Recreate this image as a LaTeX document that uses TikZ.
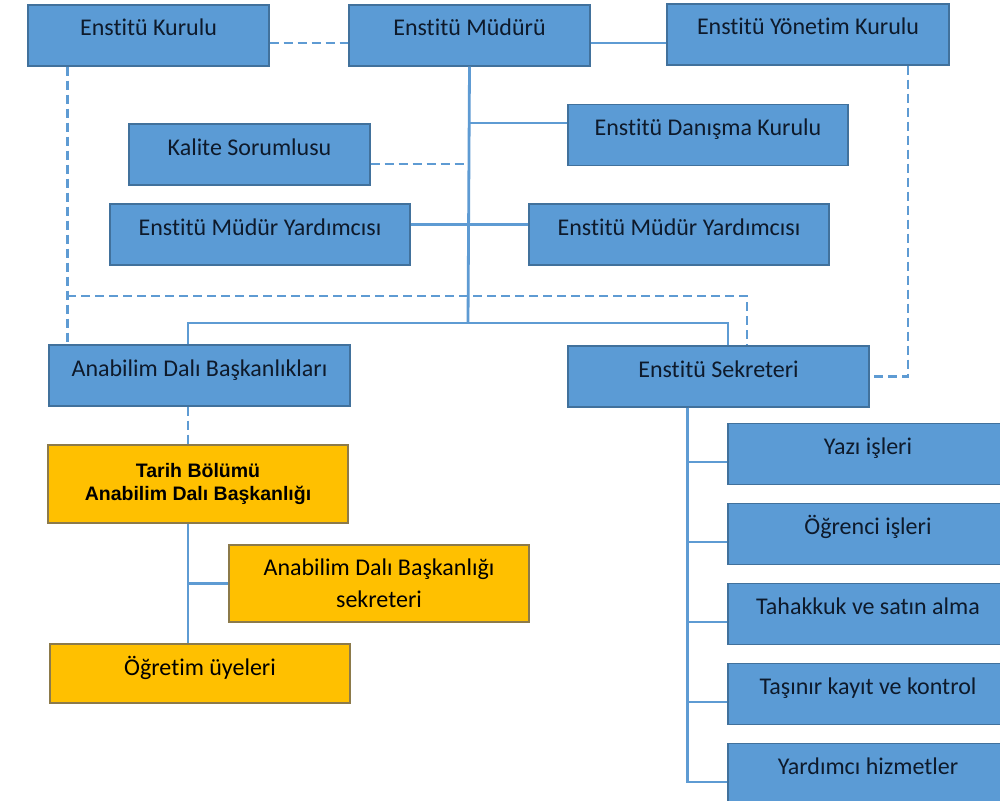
\documentclass[tikz,border=0pt]{standalone}
\usepackage{fontspec}
\setmainfont{Carlito}[Ligatures=NoCommon]
\newfontfamily\headfont{Liberation Sans}
\usepackage{xcolor}
\usepackage{tikz}
\usetikzlibrary{positioning,calc}

\definecolor{boxblue}{HTML}{5B9BD5}
\definecolor{boxedge}{HTML}{41719C}
\definecolor{linkblue}{HTML}{5E9BD3}
\definecolor{boxgold}{HTML}{FFC000}
\definecolor{goldedge}{HTML}{8C7A4A}
\definecolor{textc}{HTML}{0E1A2B}

\tikzset{
    unit box/.style={draw=boxedge, fill=boxblue, line width=1.3pt, inner xsep=0pt, inner ysep=0pt,
        text height=31pt, text depth=30pt, text=textc, font=\fontsize{24}{28}\selectfont},
    gold box/.style={unit box, draw=goldedge, fill=boxgold, text=black},
    gold multi/.style={draw=goldedge, fill=boxgold, line width=1.3pt, inner sep=0pt, align=center, text=black},
    link/.style={draw=linkblue, line width=2.8pt},
    dashlink/.style={link, dash pattern=on 9pt off 5pt}
}

\begin{document}
\begin{tikzpicture}[x=1pt, y=-1pt]
    \useasboundingbox (0,0) rectangle (1000,800);
    \clip (0,0) rectangle (1000,800);
    \fill[white] (0,0) rectangle (1000,800);

    % Top row
    \node[unit box, minimum width=241] (kurulu) at (148.5,35.5) {Enstitü Kurulu};
    \node[unit box, minimum width=241] (mudur) at (469.5,35.5) {Enstitü Müdürü};
    \node[unit box, minimum width=282] (yonetim) at (808,34.5) {Enstitü Yönetim Kurulu};

    % Staff of the director
    \node[unit box, minimum width=280] (danisma) at (708,135) {Enstitü Danışma Kurulu};
    \node[unit box, minimum width=241] (kalite) at (249.5,154.5) {Kalite Sorumlusu};
    \node[unit box, minimum width=300] (ymyleft) at (260,234.5) {Enstitü Müdür Yardımcısı};
    \node[unit box, minimum width=300] (ymyright) at (679,234.5) {Enstitü Müdür Yardımcısı};

    % Second level
    \node[unit box, minimum width=301] (anabilim) at (199.5,375.5) {Anabilim Dalı Başkanlıkları};
    \node[unit box, minimum width=301] (sekreter) at (718.5,376.5) {Enstitü Sekreteri};

    % Department
    \node[gold multi, minimum width=300, minimum height=78, font=\headfont\bfseries\fontsize{19.5}{23}\selectfont]
        (tarih) at (198,484) {Tarih Bölümü\\Anabilim Dalı Başkanlığı};
    \node[gold multi, minimum width=300, minimum height=77, font=\fontsize{24}{32}\selectfont]
        (adbsek) at (379,583.5) {Anabilim Dalı Başkanlığı\\sekreteri};
    \node[gold box, minimum width=300, text depth=28pt] (ogretim) at (200,673.5) {Öğretim üyeleri};

    % Units of the secretary
    \foreach \n/\t [count=\i] in {yazi/Yazı işleri, ogrenci/Öğrenci işleri, tahakkuk/Tahakkuk ve satın alma,
        tasinir/Taşınır kayıt ve kontrol, yardhiz/Yardımcı hizmetler}
        \node[unit box, minimum width=280] (\n) at (868,374+80*\i) {\t};

    % Solid links
    \coordinate (bus) at (468,323);
    \draw[link] (mudur.south) -- (bus);
    \draw[link] ([yshift=-7.5]mudur.east) -- ([yshift=-7.5]mudur.east -| yonetim.west);
    \draw[link] ([yshift=12]danisma.west) -- ([yshift=12]danisma.west -| bus);
    \draw[link] ([yshift=10]ymyleft.east) -- ([yshift=10]ymyright.west);
    \draw[link] ([xshift=-11.5]anabilim.north) |- (bus) -| ([xshift=9.5]sekreter.north);
    \draw[link] ([xshift=-10]tarih.south) -- ([xshift=-10]tarih.south |- ogretim.north);
    \draw[link] ([xshift=-10]tarih.south |- adbsek.west) -- (adbsek.west);
    \foreach \n in {yazi,ogrenci,tahakkuk,tasinir,yardhiz}
        \draw[link] ([xshift=120]sekreter.south west) |- ([yshift=-8]\n.west);

    % Dashed links
    \draw[dashlink] ([yshift=-7.5]kurulu.east) -- ([yshift=-7.5]mudur.west);
    \draw[dashlink] ([yshift=-9.5]kalite.east) -- ([yshift=-9.5]kalite.east -| bus);
    \draw[dashlink] ([xshift=40]kurulu.south west) -- ([xshift=40]kurulu.south west |- anabilim.north);
    \draw[dashlink] ([xshift=40]kurulu.south west |- 0,296) -| ([xshift=28.5]sekreter.north);
    \draw[dashlink] ([xshift=100]yonetim.south) |- (sekreter.east);
    \draw[dashlink] ([xshift=-11.5]anabilim.south) -- ([xshift=-11.5]anabilim.south |- tarih.north);
\end{tikzpicture}
\end{document}
